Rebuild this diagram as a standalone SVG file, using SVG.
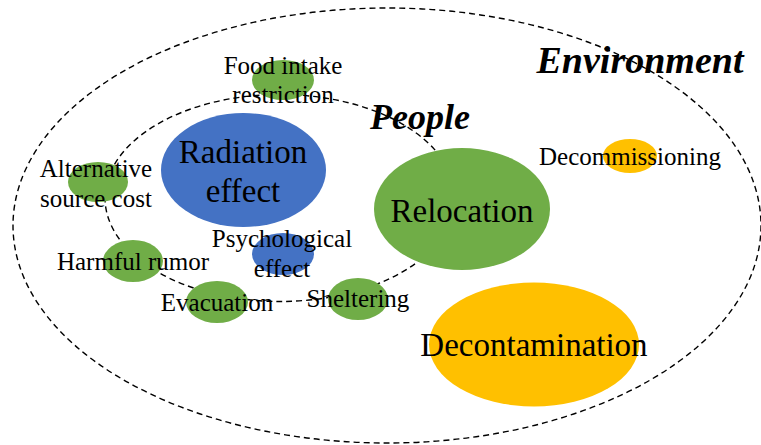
<svg xmlns="http://www.w3.org/2000/svg" width="761" height="445" viewBox="0 0 761 445">
<style>
.bd{fill:none;stroke:#000;stroke-width:1.4;stroke-dasharray:6 4}
.g{fill:#70AD47}.b{fill:#4472C4}.o{fill:#FFC000}
text{font-family:"Liberation Serif","Times New Roman",serif;fill:#000;text-anchor:middle}
.s{font-size:25px}.l{font-size:33px}
.h{font-weight:bold;font-style:italic}
</style>
<rect width="761" height="445" fill="#fff"/>
<g id="connectors">
<ellipse class="bd" cx="387" cy="225.5" rx="374" ry="217.5"/>
<ellipse class="bd" cx="280" cy="198" rx="175" ry="103.5"/>
</g>
<g id="environment"><text class="h" x="640" y="73" font-size="38">Environment</text></g>
<g id="people"><text class="h" x="420" y="129" font-size="36">People</text></g>
<g id="food"><ellipse class="g" cx="283" cy="80" rx="31" ry="20"/><text class="s" x="283" y="74">Food intake</text><text class="s" x="283" y="103">restriction</text></g>
<g id="radiation"><ellipse class="b" cx="243.5" cy="170" rx="82.5" ry="57"/><text class="l" x="243" y="163">Radiation</text><text class="l" x="243" y="202">effect</text></g>
<g id="alternative"><ellipse class="g" cx="98" cy="182" rx="30" ry="20"/><text class="s" x="96" y="177">Alternative</text><text class="s" x="96" y="207">source cost</text></g>
<g id="rumor"><ellipse class="g" cx="133" cy="261" rx="30" ry="21"/><text class="s" x="133" y="270">Harmful rumor</text></g>
<g id="psychological"><ellipse class="b" cx="283" cy="254" rx="31" ry="21"/><text class="s" x="282" y="247">Psychological</text><text class="s" x="282" y="277">effect</text></g>
<g id="evacuation"><ellipse class="g" cx="217" cy="302" rx="31" ry="21"/><text class="s" x="217" y="311">Evacuation</text></g>
<g id="sheltering"><ellipse class="g" cx="358" cy="299" rx="30" ry="21"/><text class="s" x="358" y="307">Sheltering</text></g>
<g id="relocation"><ellipse class="g" cx="462" cy="209" rx="88" ry="61"/><text class="l" x="462" y="222">Relocation</text></g>
<g id="decommissioning"><ellipse class="o" cx="630" cy="156" rx="27" ry="17"/><text class="s" x="630" y="165">Decommissioning</text></g>
<g id="decontamination"><ellipse class="o" cx="534" cy="344.5" rx="105" ry="62"/><text class="l" x="534" y="356">Decontamination</text></g>
</svg>
